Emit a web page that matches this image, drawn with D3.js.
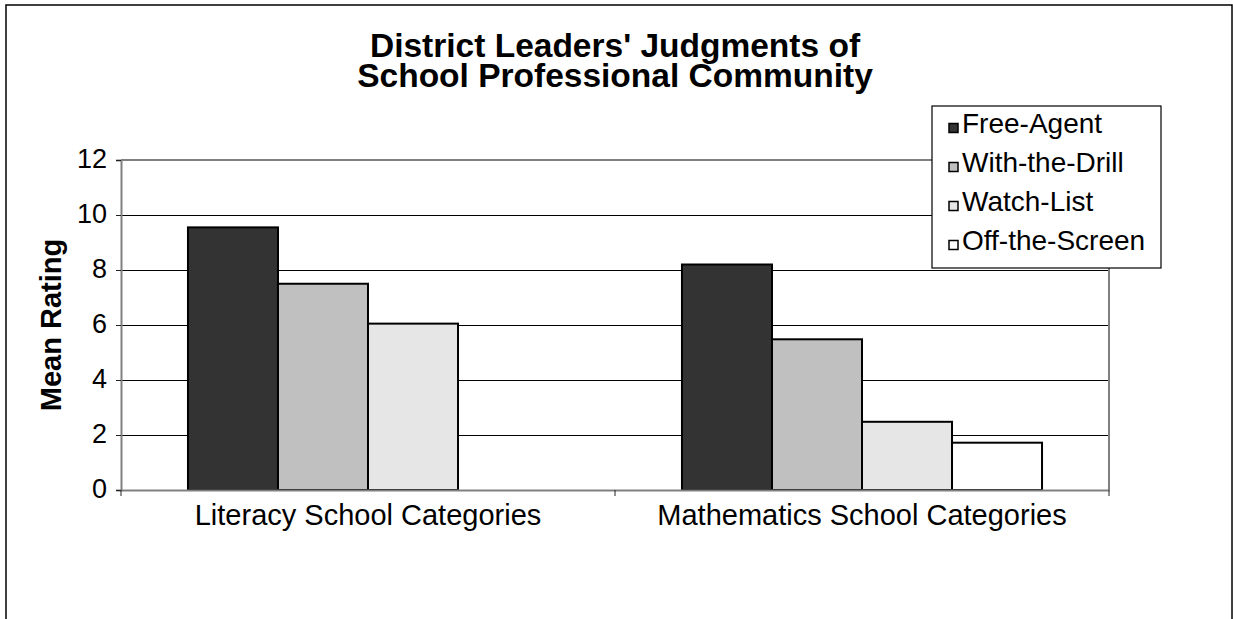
<!DOCTYPE html>
<html>
<head>
<meta charset="utf-8">
<script src="https://cdn.jsdelivr.net/npm/d3@7"></script>
<style>
	body { margin: 0; background: #fff; }
	text { font-family: "Liberation Sans", Arial, sans-serif; }
</style>
</head>
<body>
<div id="chart"></div>
<script>
//Values
var categories = ["Literacy School Categories", "Mathematics School Categories"];
var seriesNames = ["Free-Agent", "With-the-Drill", "Watch-List", "Off-the-Screen"];
var freeAgent = [9.55, 8.2];
var withTheDrill = [7.5, 5.48];
var watchList = [6.05, 2.48];
var offTheScreen = [null, 1.72];
var yTicks = [0, 2, 4, 6, 8, 10, 12];
var titleLines = ["District Leaders' Judgments of", "School Professional Community"];

var seriesValues = [freeAgent, withTheDrill, watchList, offTheScreen];
var colorArray = ["#333333", "#c0c0c0", "#e6e6e6", "#ffffff"];

//Plot area in page pixels
var plot = {left: 121, right: 1109, top: 160, bottom: 490};

var svg = d3.select("#chart")
	.append("svg")
	.attr("width", 1233)
	.attr("height", 619);

//Outer chart border
svg.append("rect")
	.attr("x", 6)
	.attr("y", 5)
	.attr("width", 1226)
	.attr("height", 650)
	.attr("fill", "#fff")
	.attr("stroke", "#000")
	.attr("stroke-width", 1.5);

//Scales
var x0 = d3.scaleBand()
	.domain(categories)
	.range([plot.left, plot.right])
	.padding(0);

var x1 = d3.scaleBand()
	.domain(seriesNames)
	.range([0, x0.bandwidth()])
	.paddingInner(0)
	.paddingOuter(0.744);

var y = d3.scaleLinear()
	.domain([0, 12])
	.range([plot.bottom, plot.top]);

//Gridlines
svg.append("g")
	.selectAll("line")
	.data(yTicks.filter(function(d){ return d > 0 && d < 12; }))
	.enter()
	.append("line")
	.attr("x1", plot.left)
	.attr("x2", plot.right)
	.attr("y1", function(d){ return y(d) + 0.5; })
	.attr("y2", function(d){ return y(d) + 0.5; })
	.attr("stroke", "#000")
	.attr("stroke-width", 1)
	.attr("shape-rendering", "crispEdges");

//Plot area border (top and right are grey)
svg.append("path")
	.attr("d", "M" + plot.left + "," + y(12) + "H" + plot.right + "V" + plot.bottom)
	.attr("fill", "none")
	.attr("stroke", "#808080")
	.attr("stroke-width", 2);

//Bars
var rows = [];
for(var s = 0; s < seriesNames.length; s++)
{
	for(var c = 0; c < categories.length; c++)
	{
		if(seriesValues[s][c] != null)
			rows.push({cat: categories[c], series: seriesNames[s], value: seriesValues[s][c], idx: s});
	}
}

svg.append("g")
	.selectAll("rect")
	.data(rows)
	.enter()
	.append("rect")
	.attr("x", function(d){ return x0(d.cat) + x1(d.series); })
	.attr("y", function(d){ return y(d.value); })
	.attr("width", x1.bandwidth())
	.attr("height", function(d){ return y(0) - y(d.value); })
	.attr("fill", function(d){ return colorArray[d.idx]; })
	.attr("stroke", "#000")
	.attr("stroke-width", 2);

//Y axis
var yAxis = svg.append("g")
	.attr("transform", "translate(" + plot.left + ",0)")
	.call(d3.axisLeft(y).tickValues(yTicks).tickSize(5).tickPadding(9));

yAxis.select(".domain")
	.attr("stroke", "#808080")
	.attr("stroke-width", 2);
yAxis.selectAll(".tick line").attr("stroke", "#222");
yAxis.selectAll(".tick text")
	.attr("dy", "0.28em")
	.style("font-size", "27px")
	.style("font-family", "'Liberation Sans', Arial, sans-serif")
	.attr("fill", "#000");

//X axis
var xAxis = svg.append("g")
	.attr("transform", "translate(0," + plot.bottom + ")")
	.call(d3.axisBottom(x0).tickSize(0).tickPadding(14));

xAxis.select(".domain")
	.attr("stroke", "#808080")
	.attr("stroke-width", 2);
xAxis.selectAll(".tick text")
	.attr("dy", "0.72em")
	.style("font-size", "29px")
	.style("font-family", "'Liberation Sans', Arial, sans-serif")
	.attr("fill", "#000");

//Category separator ticks
var bounds = [plot.left].concat(categories.map(function(d){ return x0(d) + x0.bandwidth(); }));
svg.append("g")
	.selectAll("line")
	.data(bounds)
	.enter()
	.append("line")
	.attr("x1", function(d){ return d; })
	.attr("x2", function(d){ return d; })
	.attr("y1", plot.bottom)
	.attr("y2", plot.bottom + 6)
	.attr("stroke", "#222");

//Axis title
svg.append("text")
	.attr("transform", "translate(61," + ((plot.top + plot.bottom) / 2) + ") rotate(-90)")
	.style("text-anchor", "middle")
	.style("font-size", "29px")
	.style("font-weight", "bold")
	.text("Mean Rating");

//Chart title
svg.append("g")
	.selectAll("text")
	.data(titleLines)
	.enter()
	.append("text")
	.attr("x", (plot.left + plot.right) / 2)
	.attr("y", function(d, i){ return 57 + i * 30; })
	.style("text-anchor", "middle")
	.style("font-size", "33.5px")
	.style("font-weight", "bold")
	.text(function(d){ return d; });

//Legend
var legend = svg.append("g")
	.attr("transform", "translate(932,106)");

legend.append("rect")
	.attr("width", 229)
	.attr("height", 162)
	.attr("fill", "#fff")
	.attr("stroke", "#000")
	.attr("stroke-width", 1.2);

var legendItem = legend.selectAll(".legend-item")
	.data(seriesNames)
	.enter()
	.append("g")
	.attr("class", "legend-item")
	.attr("transform", function(d, i){ return "translate(0," + (27 + i * 39) + ")"; });

legendItem.append("rect")
	.attr("x", 17)
	.attr("y", -9.5)
	.attr("width", 9)
	.attr("height", 9)
	.attr("fill", function(d, i){ return colorArray[i]; })
	.attr("stroke", "#000")
	.attr("stroke-width", 1.5);

legendItem.append("text")
	.attr("x", 30)
	.attr("y", 0)
	.style("font-size", "28px")
	.text(function(d){ return d; });
</script>
</body>
</html>
